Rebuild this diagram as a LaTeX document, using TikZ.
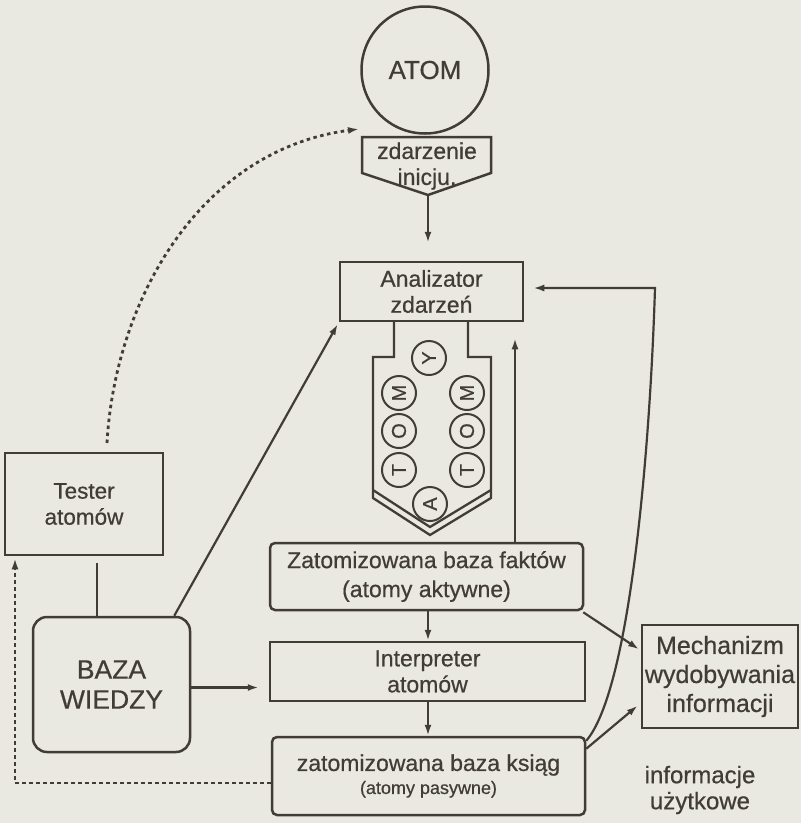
\documentclass[tikz,border=0pt]{standalone}
\usepackage{fontspec}
\setmainfont{Liberation Sans}[FakeBold=0.6]
\usetikzlibrary{arrows.meta}
\definecolor{ink}{RGB}{66,60,56}
\definecolor{paper}{RGB}{233,233,225}
\begin{document}
\begin{tikzpicture}[x=1pt,y=-1pt,
  box/.style={draw=ink, line width=2.5pt, inner sep=0pt, align=center, text=ink, font=\fontsize{23}{26}\selectfont},
  rbox/.style={box, rounded corners=5pt},
  arr/.style={draw=ink, line width=2.2pt, -{Latex[length=11pt,width=7pt]}},
  plainln/.style={draw=ink, line width=2.2pt},
  dotln/.style={draw=ink, line width=2.8pt, dash pattern=on 3.5pt off 3.5pt, -{Latex[length=11pt,width=7pt]}},
  atomc/.style={circle, draw=ink, line width=2pt, minimum size=34pt, inner sep=0pt, font=\fontsize{20}{20}\selectfont, text=ink, rotate=90},
  lbl/.style={text=ink, align=center, inner sep=0pt, font=\fontsize{23}{26}\selectfont}
]
\fill[paper] (0,0) rectangle (801,823);
\useasboundingbox (0,0) rectangle (801,823);

% ATOM and initiating event
\node[circle, draw=ink, line width=2.5pt, minimum size=127pt, inner sep=0pt, font=\fontsize{26}{26}\selectfont, text=ink] (atom) at (425,70) {ATOM};
\coordinate (evtl) at (362,137);
\coordinate (evtr) at (491,137);
\coordinate (evbl) at (362,173);
\coordinate (evbr) at (491,173);
\coordinate (evtip) at (428,195);
\draw[ink, line width=2.5pt, line join=miter] (evtl) -- (evtr) -- (evbr) -- (evtip) -- (evbl) -- cycle;
\node[lbl] (ev) at (427,166) {zdarzenie\\inicju.};

% Analizator
\node[box, minimum width=183pt, minimum height=59pt] (ana) at (431.5,291.5) {Analizator\\zdarzeń};
\draw[arr, shorten >=18pt] (evtip) -- (evtip |- ana.north);

% funnel
\draw[ink, line width=2.3pt, line join=miter]
  (394,321) -- (394,357) -- (373,357) -- (373,498) -- (430,535) -- (491,498) -- (491,357) -- (468,357) -- (468,321);
\draw[ink, line width=2.3pt] (373,490) -- (430,527) -- (491,490);

% atom letters
\node[atomc] (cy) at (429,358) {Y};
\node[atomc] (cml) at (399,393) {M};
\node[atomc] (col) at (399,431) {O};
\node[atomc] (ctl) at (399,470) {T};
\node[atomc] (cmr) at (467,393) {M};
\node[atomc] (cor) at (467,431) {O};
\node[atomc] (ctr) at (467,470) {T};
\node[atomc] (ca) at (430,504) {A};

% main boxes
\node[rbox, minimum width=313pt, minimum height=67pt, font=\fontsize{23}{29}\selectfont] (fakt) at (426.5,576.5) {Zatomizowana baza faktów\\(atomy aktywne)};
\node[box, minimum width=315pt, minimum height=59pt] (interp) at (427.5,671.5) {Interpreter\\atomów};
\node[rbox, minimum width=313pt, minimum height=78pt] (ksieg) at (428.5,776) {zatomizowana baza ksiąg\\[-3pt]{\fontsize{18}{20}\selectfont (atomy pasywne)}};
\node[box, rounded corners=14pt, minimum width=157pt, minimum height=135pt, font=\fontsize{26.5}{30}\selectfont] (baza) at (111.5,684.5) {BAZA\\WIEDZY};
\node[box, minimum width=158pt, minimum height=102pt, font=\fontsize{22.5}{26}\selectfont] (tester) at (84,504) {Tester\\atomów};
\node[box, minimum width=156pt, minimum height=103pt, font=\fontsize{25}{29}\selectfont] (mech) at (720,676.5) {Mechanizm\\wydobywania\\informacji};
\node[lbl, font=\fontsize{24}{26}\selectfont] (info) at (700,790) {informacje\\użytkowe};

% helper positions
\coordinate (rx) at (515,0);
\coordinate (fx) at (428,0);
\coordinate (bx) at (97,0);
\coordinate (lx) at (15,0);
\coordinate (cornerR) at (655,288);
\coordinate (atomin) at (359,129);
\coordinate (tstart) at (107,443);

% connectors
\draw[arr, shorten >=16pt] (fakt.north -| rx) -- (ana.south -| rx);
\draw[arr, shorten >=2pt] ([xshift=-17pt]baza.north east) -- (ana.south west);
\draw[plainln, shorten >=7pt] (baza.north -| bx) -- (tester.south -| bx);
\draw[arr, shorten >=10pt] ([yshift=-3pt]baza.east) -- ([yshift=-3pt]baza.east -| interp.west);
\draw[arr] (fakt.south -| fx) -- (interp.north -| fx);
\draw[arr] (interp.south -| fx) -- (ksieg.north -| fx);
\draw[arr, shorten >=2pt] ([xshift=-1pt,yshift=-1pt]fakt.south east) -- ([yshift=26pt]mech.west);
\draw[arr, shorten >=4pt] ([yshift=-13pt]ksieg.north east) -- ([yshift=-26.5pt]mech.west);
\draw[arr, shorten >=9pt] ([yshift=-5pt]ksieg.north east) .. controls (630,690) and (650,450) .. (cornerR) -- (cornerR -| ana.east);
\draw[dotln] (tstart) .. controls (115,300) and (200,150) .. (atomin);
\draw[dotln, shorten >=2pt] ([yshift=-7pt]ksieg.west) -| (tester.south -| lx);
\end{tikzpicture}
\end{document}
